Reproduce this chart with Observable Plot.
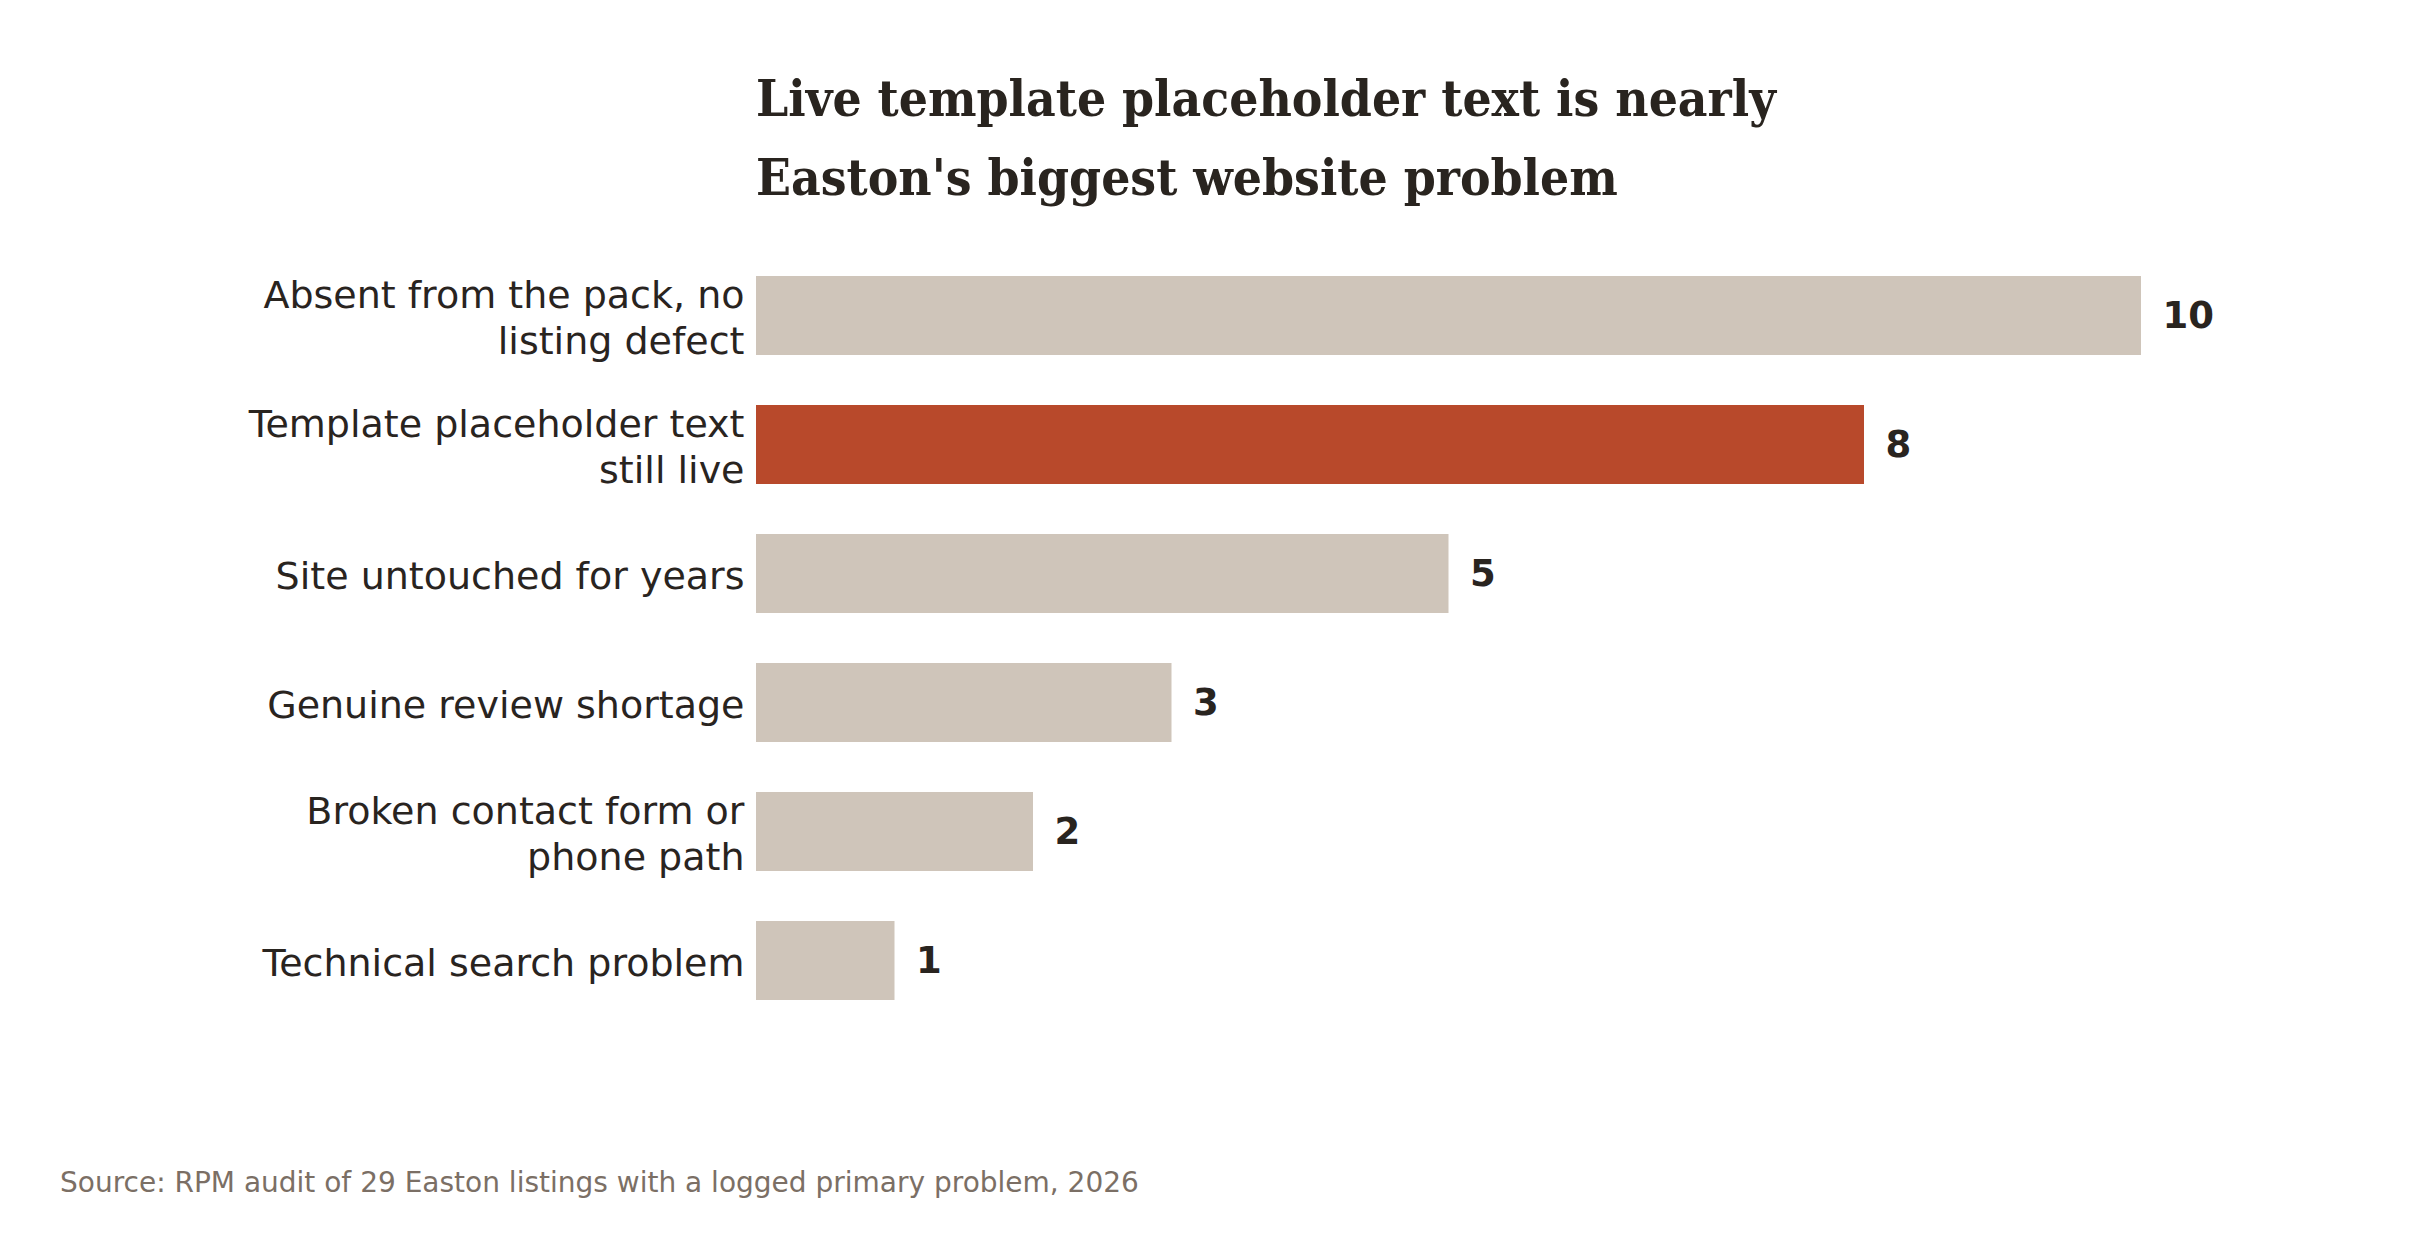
<!DOCTYPE html>
<html>
<head>
<meta charset="utf-8">
<script src="https://cdn.jsdelivr.net/npm/d3@7"></script>
<script src="https://cdn.jsdelivr.net/npm/@observablehq/plot@0.6"></script>
<style>
  html, body { margin: 0; padding: 0; background: #ffffff; }
  #wrap { position: relative; width: 2424px; height: 1258px; overflow: hidden; }
  #title { position: absolute; left: 756px; top: 59px; font-family: "DejaVu Serif Condensed", "DejaVu Serif", serif; font-stretch: condensed; font-weight: bold; font-size: 51px; line-height: 79px; color: #29241f; white-space: nowrap; }
  #chart { position: absolute; left: 0; top: 200px; }
  #source { position: absolute; left: 60px; top: 1169px; font-family: "DejaVu Sans", sans-serif; font-size: 28px; line-height: 28px; color: #7b6f65; white-space: nowrap; }
</style>
</head>
<body>
<div id="wrap">
  <div id="title">Live template placeholder text is nearly<br>Easton's biggest website problem</div>
  <div id="chart"></div>
  <div id="source">Source: RPM audit of 29 Easton listings with a logged primary problem, 2026</div>
</div>
<script>
const categories = [
  "Absent from the pack, no listing defect",
  "Template placeholder text still live",
  "Site untouched for years",
  "Genuine review shortage",
  "Broken contact form or phone path",
  "Technical search problem"
];
const tickLabels = [
  "Absent from the pack, no\nlisting defect",
  "Template placeholder text\nstill live",
  "Site untouched for years",
  "Genuine review shortage",
  "Broken contact form or\nphone path",
  "Technical search problem"
];
const counts = [10, 8, 5, 3, 2, 1];
const highlighted = "Template placeholder text still live";

const data = categories.map((c, i) => ({category: c, count: counts[i]}));
const labelOf = new Map(categories.map((c, i) => [c, tickLabels[i]]));

const chart = Plot.plot({
  width: 2424,
  height: 900,
  marginLeft: 756,
  marginRight: 283,
  marginTop: 25,
  marginBottom: 49,
  style: {fontFamily: "DejaVu Sans, sans-serif", color: "#29241f", background: "transparent"},
  x: {domain: [0, 10], axis: null},
  y: {domain: categories, padding: 0.39, axis: null},
  marks: [
    Plot.barX(data, {
      x: "count",
      y: "category",
      fill: d => d.category === highlighted ? "#b8492b" : "#cfc5ba"
    }),
    Plot.axisY({
      label: null,
      tickSize: 0,
      tickPadding: 12,
      tickFormat: d => labelOf.get(d),
      fontSize: 38,
      lineHeight: 1.22,
      fill: "#29241f"
    }),
    Plot.text(data, {
      x: "count",
      y: "category",
      text: d => String(d.count),
      dx: 21,
      textAnchor: "start",
      fontWeight: "bold",
      fontSize: 37,
      fill: "#29241f"
    })
  ]
});
document.getElementById("chart").appendChild(chart);
</script>
</body>
</html>
